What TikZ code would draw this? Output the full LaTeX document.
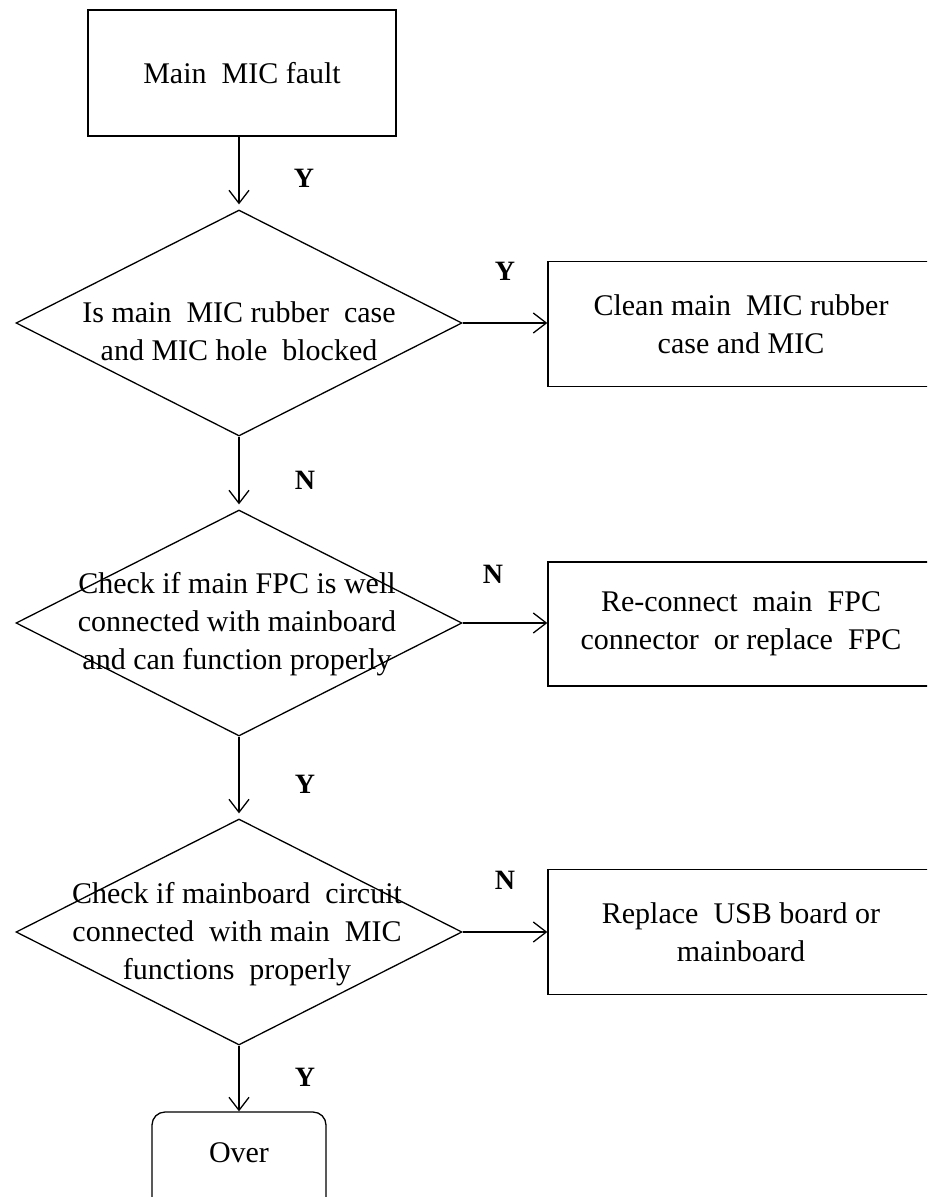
\documentclass[tikz,border=0pt]{standalone}
\usepackage{fontspec}
\setmainfont{Liberation Serif}
\usetikzlibrary{shapes.geometric,arrows.meta}
\begin{document}
\begin{tikzpicture}[x=1pt,y=-1pt,
  every node/.style={font=\fontsize{30}{38}\selectfont},
  proc/.style={draw,line width=1.3pt,inner sep=0pt,align=center},
  dec/.style={diamond,draw,line width=1.3pt,inner sep=0pt,minimum width=446pt,minimum height=226pt},
  dtext/.style={align=center,inner sep=0pt},
  lab/.style={font=\fontsize{28}{30}\selectfont\bfseries,inner sep=0pt},
  arr/.style={line width=1.3pt,-{Straight Barb[length=13pt,width=20pt,line width=1.3pt]}}
]
\useasboundingbox (0,0) rectangle (927,1197);
\clip (0,0) rectangle (927,1197);
\fill[white] (0,0) rectangle (927,1197);

% nodes
\node[proc,minimum width=308pt,minimum height=126pt] (start) at (242,73) {Main\ \ MIC fault};

\node[dec] (d1) at (239,323) {};
\node[dtext] (d1t) at (239,331) {Is main\ \ MIC rubber\ \ case\\and MIC hole\ \ blocked};

\node[dec] (d2) at (239,623) {};
\node[dtext] (d2t) at (237,624) {Check if main FPC is well\\connected with mainboard\\and can function properly};

\node[dec] (d3) at (239,932) {};
\node[dtext] (d3t) at (237,934) {Check if mainboard\ \ circuit\\connected\ \ with main\ \ MIC\\functions\ \ properly};

\node[proc,minimum width=386pt,minimum height=125pt] (b1) at (741,324) {Clean main\ \ MIC rubber\\case and MIC};
\node[proc,minimum width=386pt,minimum height=124pt] (b2) at (741,624) {Re-connect\ \ main\ \ FPC\\connector\ \ or replace\ \ FPC};
\node[proc,minimum width=386pt,minimum height=125pt] (b3) at (741,932) {Replace\ \ USB board or\\mainboard};

\node[proc,rounded corners=13pt,minimum width=174pt,minimum height=100pt] (over) at (239,1162) {};
\node[inner sep=0pt] (overt) at (239,1153) {Over};

% connectors
\draw[arr,shorten >=5pt] (start.south -| d1.north) -- (d1.north);
\draw[arr] (d1.east) -- (d1.east -| b1.west);
\draw[arr,shorten >=5pt] (d1.south) -- (d2.north);
\draw[arr] (d2.east) -- (d2.east -| b2.west);
\draw[arr,shorten >=5pt] (d2.south) -- (d3.north);
\draw[arr] (d3.east) -- (d3.east -| b3.west);
\draw[arr] (d3.south) -- (over.north);

% labels
\node[lab] (y1) at (304,178) {Y};
\node[lab] (y2) at (505,271) {Y};
\node[lab] (n1) at (305,480) {N};
\node[lab] (n2) at (493,574) {N};
\node[lab] (y3) at (305,784) {Y};
\node[lab] (n3) at (505,880) {N};
\node[lab] (y4) at (305,1077) {Y};
\end{tikzpicture}
\end{document}
